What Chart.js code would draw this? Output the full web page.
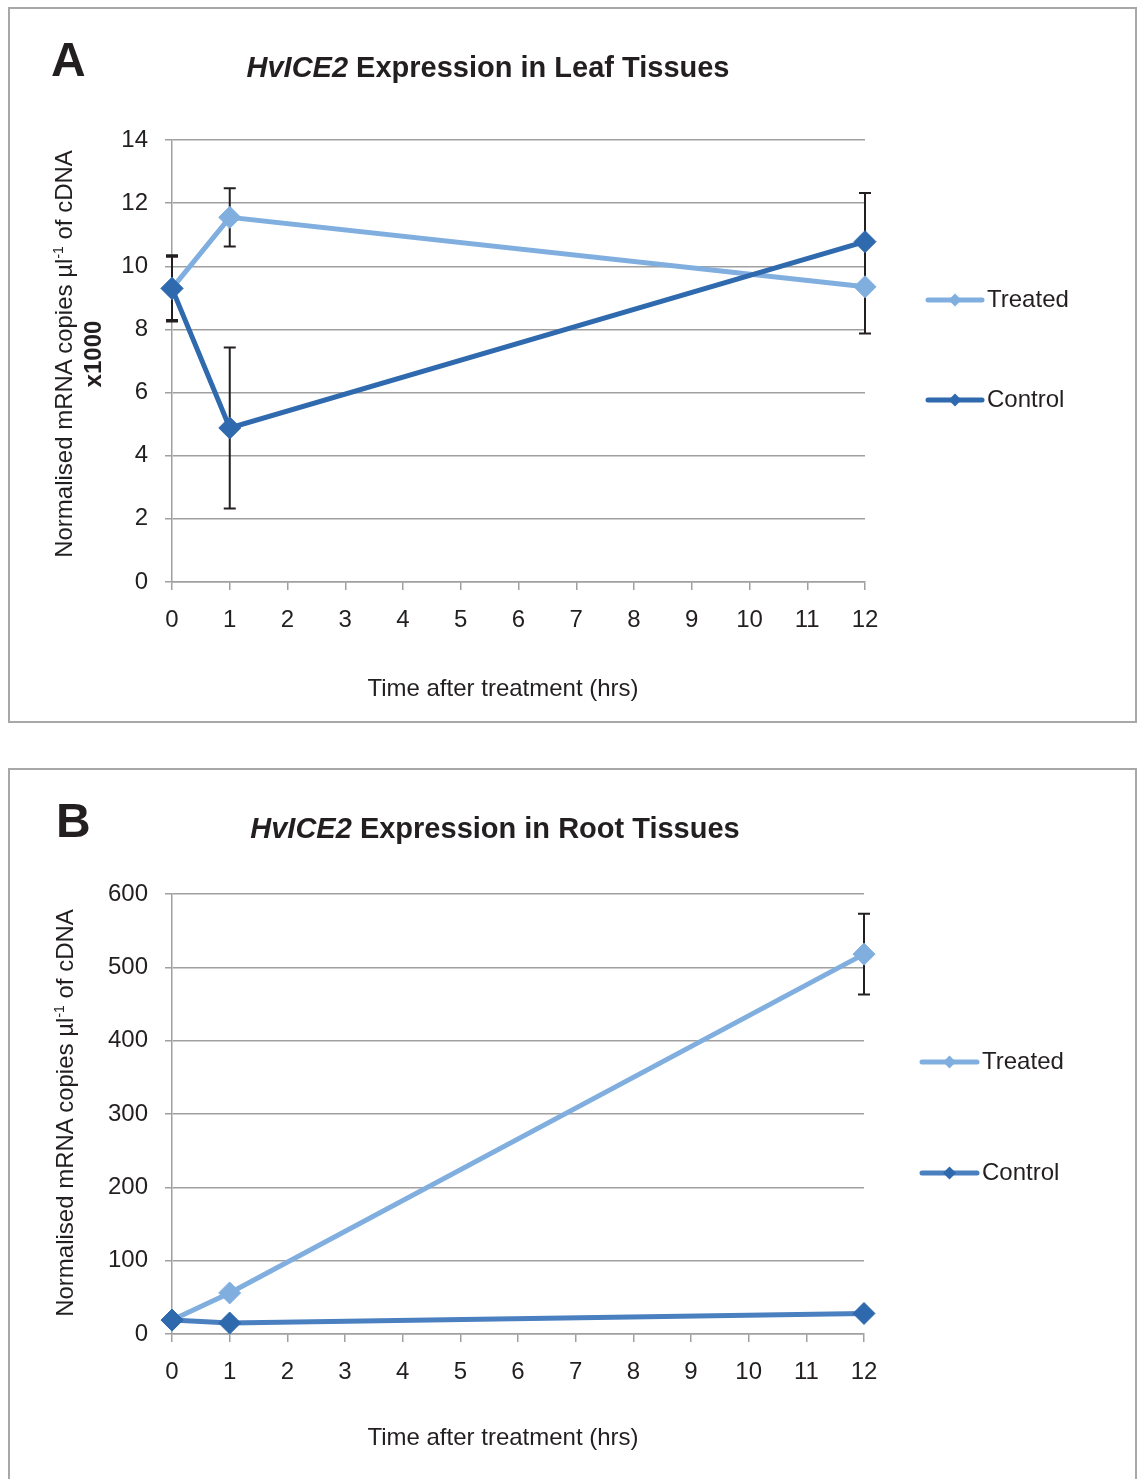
<!DOCTYPE html>
<html>
<head>
<meta charset="utf-8">
<script src="https://cdn.jsdelivr.net/npm/chart.js@4.4.1/dist/chart.umd.min.js"></script>
<style>
  body { margin: 0; background: #fff; font-family: "Liberation Sans", Arial, sans-serif; color: #231f20; }
  #page { position: relative; width: 1137px; height: 1479px; overflow: hidden; }
  .box { position: absolute; border: 2px solid #a8a8a8; box-sizing: border-box; }
  .letter { position: absolute; font-weight: bold; font-size: 48px; line-height: 1; }
  .title { position: absolute; font-weight: bold; font-size: 29px; white-space: nowrap; transform: translate(-50%, -50%); }
  .xtitle { position: absolute; font-size: 24px; white-space: nowrap; transform: translate(-50%, -50%); }
  .ytitle { position: absolute; font-size: 24px; line-height: 29px; text-align: center; white-space: nowrap;
            transform: translate(-50%, -50%) rotate(-90deg); }
  .ytitle sup { font-size: 14px; vertical-align: 9px; line-height: 0; }
  canvas { position: absolute; left: 0; }
</style>
</head>
<body>
<div id="page">
  <div class="box" style="left:8px;top:7px;width:1129px;height:716px;"></div>
  <div class="box" style="left:8px;top:768px;width:1129px;height:730px;"></div>

  <canvas id="leafChart" width="1137" height="740" style="top:0px"></canvas>
  <canvas id="rootChart" width="1137" height="739" style="top:740px"></canvas>

  <div class="letter" style="left:51px;top:36px;">A</div>
  <div class="title" style="left:488px;top:67px;"><i>HvICE2</i> Expression in Leaf Tissues</div>
  <div class="ytitle" style="left:78px;top:354px;">Normalised mRNA copies µl<sup>-1</sup> of cDNA<br><b>x1000</b></div>
  <div class="xtitle" style="left:503px;top:688px;">Time after treatment (hrs)</div>

  <div class="letter" style="left:56px;top:797px;">B</div>
  <div class="title" style="left:495px;top:828px;"><i>HvICE2</i> Expression in Root Tissues</div>
  <div class="ytitle" style="left:64px;top:1113px;">Normalised mRNA copies µl<sup>-1</sup> of cDNA</div>
  <div class="xtitle" style="left:503px;top:1437px;">Time after treatment (hrs)</div>
</div>

<script>
// sampling times (hrs)
const hours = [0, 1, 12];

// leaf tissue (x1000 copies)
const leafTreated = [9.3, 11.55, 9.35];
const leafTreatedErr = [1.0, 0.92, 1.48];
const leafControl = [9.3, 4.88, 10.78];
const leafControlErr = [1.05, 2.55, 1.54];

// root tissue (copies)
const rootTreated = [19, 56, 518];
const rootTreatedErr = [0, 0, 55];
const rootControl = [19, 15, 28];
const rootControlErr = [0, 0, 0];

const TEXT = '#231f20';
const GRID = '#a0a0a0';
const LIGHT = '#80afdf';
const FONT = '"Liberation Sans", Arial, sans-serif';

const toPoints = (vals) => hours.map((h, i) => ({ x: h, y: vals[i] }));

// vertical error bars with caps, drawn under the lines
const errorBars = {
  id: 'errorBars',
  beforeDatasetsDraw(chart) {
    const ctx = chart.ctx;
    const xs = chart.scales.x, ys = chart.scales.y;
    ctx.save();
    ctx.strokeStyle = TEXT;
    ctx.lineWidth = 2;
    chart.data.datasets.forEach(ds => {
      ds.data.forEach((p, i) => {
        const e = ds.errors[i];
        if (!e) return;
        const px = xs.getPixelForValue(p.x);
        const top = ys.getPixelForValue(p.y + e);
        const bot = ys.getPixelForValue(p.y - e);
        ctx.beginPath();
        ctx.moveTo(px, top); ctx.lineTo(px, bot);
        ctx.moveTo(px - 6, top); ctx.lineTo(px + 6, top);
        ctx.moveTo(px - 6, bot); ctx.lineTo(px + 6, bot);
        ctx.stroke();
      });
    });
    ctx.restore();
  }
};

// legend on the right with wide spacing
const sideLegend = {
  id: 'sideLegend',
  afterDraw(chart, args, opts) {
    const ctx = chart.ctx;
    ctx.save();
    opts.items.forEach(it => {
      const ds = chart.data.datasets[it.index];
      ctx.strokeStyle = ds.borderColor;
      ctx.lineWidth = 5;
      ctx.lineCap = 'round';
      ctx.beginPath();
      ctx.moveTo(opts.x, it.y);
      ctx.lineTo(opts.x + opts.len, it.y);
      ctx.stroke();
      const cx = opts.x + opts.len / 2, r = 6.5;
      ctx.fillStyle = ds.pointBackgroundColor;
      ctx.beginPath();
      ctx.moveTo(cx, it.y - r); ctx.lineTo(cx + r, it.y);
      ctx.lineTo(cx, it.y + r); ctx.lineTo(cx - r, it.y);
      ctx.closePath();
      ctx.fill();
      ctx.fillStyle = TEXT;
      ctx.font = '24px ' + FONT;
      ctx.textBaseline = 'middle';
      ctx.fillText(ds.label, opts.x + opts.len + 5, it.y);
    });
    ctx.restore();
  }
};

function series(label, vals, errs, line, marker) {
  return {
    label: label,
    data: toPoints(vals),
    errors: errs,
    borderColor: line,
    backgroundColor: line,
    borderWidth: 5,
    pointStyle: 'rectRot',
    pointRadius: 11,
    pointBackgroundColor: marker,
    pointBorderColor: marker,
    pointBorderWidth: 1,
    tension: 0,
    clip: false
  };
}

function makeChart(id, datasets, yMax, yStep, pad, xHeight, legend) {
  return new Chart(document.getElementById(id), {
    type: 'line',
    data: { datasets: datasets },
    options: {
      responsive: false,
      animation: false,
      layout: { padding: pad },
      plugins: { legend: { display: false }, tooltip: { enabled: false }, sideLegend: legend },
      scales: {
        x: {
          type: 'linear', min: 0, max: 12,
          afterFit: (axis) => { axis.height = xHeight; },
          grid: { drawOnChartArea: false, drawTicks: true, tickLength: 8, color: GRID, lineWidth: 1.5 },
          border: { display: true, color: GRID, width: 1.5 },
          ticks: { stepSize: 1, padding: 16, color: TEXT, font: { size: 24, family: FONT } }
        },
        y: {
          min: 0, max: yMax,
          afterFit: (axis) => { axis.width = 172; },
          grid: { color: GRID, lineWidth: 1.5, tickLength: 7 },
          border: { display: true, color: GRID, width: 1.5 },
          ticks: { stepSize: yStep, padding: 17, color: TEXT, font: { size: 24, family: FONT } }
        }
      }
    },
    plugins: [errorBars, sideLegend]
  });
}

// control listed first so it is drawn on top
makeChart('leafChart', [
  series('Control', leafControl, leafControlErr, '#2f69ae', '#2f69ae'),
  series('Treated', leafTreated, leafTreatedErr, LIGHT, LIGHT)
], 14, 2, { left: 0, right: 272, top: 140, bottom: 0 }, 158,
  { x: 928, len: 54, items: [{ index: 1, y: 300 }, { index: 0, y: 400 }] });

makeChart('rootChart', [
  series('Control', rootControl, rootControlErr, '#4a7fc0', '#2e69ae'),
  series('Treated', rootTreated, rootTreatedErr, LIGHT, LIGHT)
], 600, 100, { left: 0, right: 273, top: 154, bottom: 0 }, 145,
  { x: 922, len: 55, items: [{ index: 1, y: 322 }, { index: 0, y: 433 }] });
</script>
</body>
</html>
